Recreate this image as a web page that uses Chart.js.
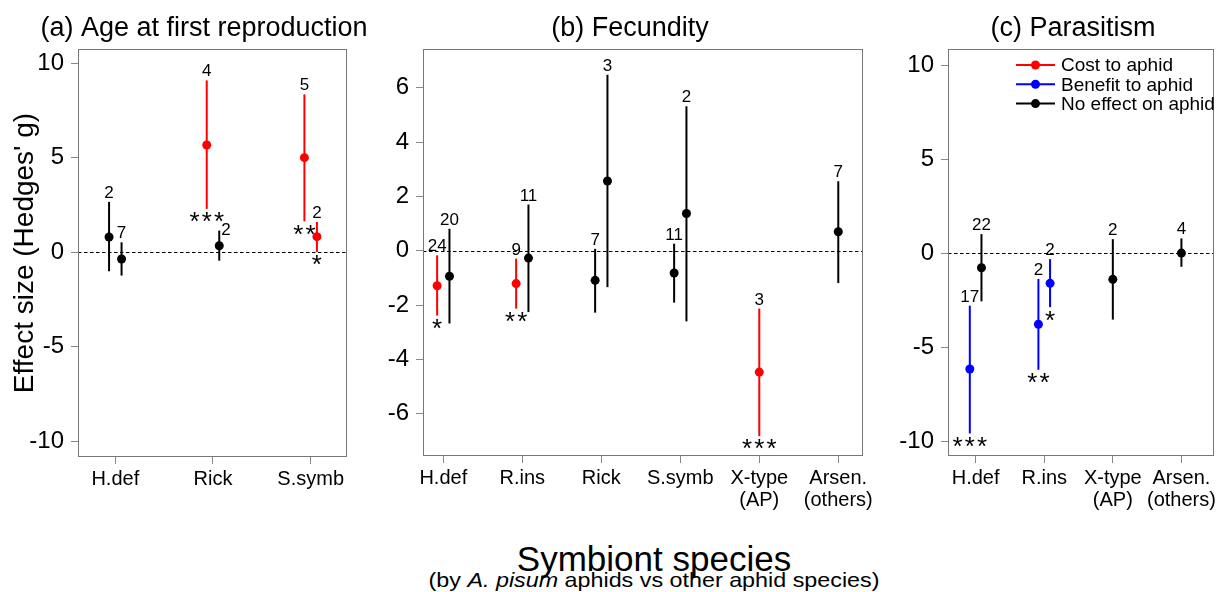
<!DOCTYPE html>
<html>
<head>
<meta charset="utf-8">
<title>Symbiont effects on aphids</title>
<script src="https://cdn.jsdelivr.net/npm/chart.js@4.4.1/dist/chart.umd.min.js"></script>
<style>
  html, body { margin: 0; padding: 0; background: #fff; }
  body { position: relative; width: 1221px; height: 592px; overflow: hidden; font-family: "Liberation Sans", Arial, sans-serif; color: #000; }
  canvas { position: absolute; top: 0; }
  .xtitle { position: absolute; white-space: nowrap; }
</style>
</head>
<body>
<canvas id="panelA" width="408" height="520" style="left:0px"></canvas>
<canvas id="panelB" width="520" height="520" style="left:370px"></canvas>
<canvas id="panelC" width="346" height="520" style="left:900px"></canvas>
<div class="xtitle" style="left:654px; top:541px; font-size:35px; line-height:35px; transform:translateX(-50%)">Symbiont species</div>
<div class="xtitle" style="left:654px; top:568px; font-size:21px; line-height:23px; transform:translateX(-50%) scaleX(1.11)">(by <i>A. pisum</i> aphids vs other aphid species)</div>
<script>
// tick labels per panel
const ticksA = ['H.def', 'Rick', 'S.symb'];
const ticksB = ['H.def', 'R.ins', 'Rick', 'S.symb', ['X-type', '(AP)'], ['Arsen.', '(others)']];
const ticksC = ['H.def', 'R.ins', ['X-type', '(AP)'], ['Arsen.', '(others)']];

// (a) age at first reproduction
const catA = [1, 1, 2, 2, 3, 3];
const hostA = ['pisum', 'other', 'pisum', 'other', 'pisum', 'other'];
const meanA = [0.81, -0.35, 5.68, 0.35, 5.01, 0.83];
const lowA = [-1.0, -1.23, 2.3, -0.44, 1.64, 0.02];
const highA = [2.67, 0.53, 9.1, 1.15, 8.36, 1.61];
const nA = [2, 7, 4, 2, 5, 2];
const sigA = ['', '', '***', '', '**', '*'];
const effA = ['none', 'none', 'cost', 'none', 'cost', 'cost'];

// (b) fecundity
const catB = [1, 1, 2, 2, 3, 3, 4, 4, 5, 6];
const hostB = ['pisum', 'other', 'pisum', 'other', 'pisum', 'other', 'pisum', 'other', 'pisum', 'other'];
const meanB = [-1.29, -0.94, -1.21, -0.27, -1.09, 2.57, -0.82, 1.37, -4.47, 0.70];
const lowB = [-2.39, -2.68, -2.13, -2.26, -2.28, -1.34, -1.91, -2.60, -6.83, -1.19];
const highB = [-0.17, 0.81, -0.29, 1.70, 0.07, 6.48, 0.26, 5.32, -2.13, 2.56];
const nB = [24, 20, 9, 11, 7, 3, 11, 2, 3, 7];
const sigB = ['*', '', '**', '', '', '', '', '', '***', ''];
const effB = ['cost', 'none', 'cost', 'none', 'none', 'none', 'none', 'none', 'cost', 'none'];

// (c) parasitism
const catC = [1, 1, 2, 2, 3, 4];
const hostC = ['pisum', 'other', 'pisum', 'other', 'pisum', 'other'];
const meanC = [-6.15, -0.76, -3.77, -1.59, -1.38, 0.02];
const lowC = [-9.58, -2.55, -6.19, -2.86, -3.52, -0.71];
const highC = [-2.78, 1.03, -1.36, -0.30, 0.76, 0.80];
const nC = [17, 22, 2, 2, 2, 4];
const sigC = ['***', '', '**', '*', '', ''];
const effC = ['benefit', 'none', 'benefit', 'benefit', 'none', 'none'];

const legendKeys = ['cost', 'benefit', 'none'];
const legendLabels = ['Cost to aphid', 'Benefit to aphid', 'No effect on aphid'];
const effectColors = { cost: '#ff0000', benefit: '#0000ff', none: '#000000' };

const FONT = "'Liberation Sans', Arial, sans-serif";
Chart.defaults.font.family = FONT;
Chart.defaults.color = '#000';

// two estimates sharing a symbiont are drawn side by side
function dodgeX(cat, host, dodge) {
  return cat.map((c, i) => {
    if (cat.filter(d => d === c).length < 2) return c;
    return host[i] === 'pisum' ? c - dodge : c + dodge;
  });
}

const effectLegend = {
  id: 'effectLegend',
  afterDraw(chart) {
    const { ctx, chartArea: a } = chart;
    ctx.save();
    ctx.font = '19px ' + FONT;
    ctx.textBaseline = 'middle';
    legendKeys.forEach((k, i) => {
      const yy = a.top + 16 + i * 19.3;
      const x0 = a.left + 68;
      ctx.strokeStyle = effectColors[k];
      ctx.fillStyle = effectColors[k];
      ctx.lineWidth = 2;
      ctx.beginPath(); ctx.moveTo(x0, yy); ctx.lineTo(x0 + 39, yy); ctx.stroke();
      ctx.beginPath(); ctx.arc(x0 + 19.5, yy, 4.5, 0, Math.PI * 2); ctx.fill();
      ctx.fillStyle = '#000';
      ctx.fillText(legendLabels[i], x0 + 45, yy + 1);
    });
    ctx.restore();
  }
};

function drawPanel(id, p) {
  const xs = dodgeX(p.cat, p.host, p.dodge);
  const datasets = legendKeys.map(k => ({
    label: k,
    data: p.mean.map((m, i) => ({ x: xs[i], y: m, k: p.eff[i] })).filter(d => d.k === k),
    backgroundColor: effectColors[k],
    borderColor: effectColors[k],
    borderWidth: 0,
    pointRadius: 4.5,
    pointHoverRadius: 4.5
  })).filter(ds => ds.data.length);

  const intervals = {
    id: 'intervals',
    beforeDatasetsDraw(chart) {
      const { ctx, chartArea: a, scales: { x, y } } = chart;
      ctx.save();
      const y0 = Math.round(y.getPixelForValue(0)) + 0.5;
      ctx.strokeStyle = '#000';
      ctx.lineWidth = 1;
      ctx.setLineDash([3.5, 2.5]);
      ctx.beginPath(); ctx.moveTo(a.left, y0); ctx.lineTo(a.right, y0); ctx.stroke();
      ctx.setLineDash([]);
      ctx.lineWidth = 2;
      xs.forEach((xv, i) => {
        const px = x.getPixelForValue(xv);
        ctx.strokeStyle = effectColors[p.eff[i]];
        ctx.beginPath();
        ctx.moveTo(px, y.getPixelForValue(p.low[i]));
        ctx.lineTo(px, y.getPixelForValue(p.high[i]));
        ctx.stroke();
      });
      ctx.restore();
    },
    afterDatasetsDraw(chart) {
      const { ctx, chartArea: a, scales: { x, y } } = chart;
      ctx.save();
      ctx.fillStyle = '#000';
      ctx.textBaseline = 'alphabetic';

      // significance stars below each interval
      const starBoxes = [];
      ctx.font = '26px ' + FONT;
      ctx.textAlign = 'center';
      xs.forEach((xv, i) => {
        const stars = p.sig[i].length;
        if (!stars) return;
        const px = x.getPixelForValue(xv);
        const cy = y.getPixelForValue(p.low[i]) + 6.5;
        for (let s = 0; s < stars; s++) ctx.fillText('*', px + (s - (stars - 1) / 2) * 12.2, cy + 0.57 * 26);
        starBoxes.push({ i, x1: px - stars * 6.1, x2: px + stars * 6.1, y1: cy - 5, y2: cy + 5 });
      });

      // number of studies above each interval, moved aside if it would sit on stars
      ctx.font = '17px ' + FONT;
      xs.forEach((xv, i) => {
        const px = x.getPixelForValue(xv);
        const top = y.getPixelForValue(p.high[i]);
        const txt = String(p.n[i]);
        const w = ctx.measureText(txt).width;
        const hit = starBoxes.some(b => b.i !== i && px + w / 2 > b.x1 && px - w / 2 < b.x2 && top - 4 > b.y1 && top - 16 < b.y2);
        if (hit) {
          ctx.textAlign = 'left';
          ctx.fillText(txt, px + 2, top + 4);
        } else {
          ctx.textAlign = 'center';
          ctx.fillText(txt, px, top - 4);
        }
      });

      ctx.strokeStyle = '#777';
      ctx.lineWidth = 1;
      ctx.strokeRect(a.left + 0.5, a.top + 0.5, a.width - 1, a.height - 1);

      // panel title
      ctx.font = '27px ' + FONT;
      ctx.textAlign = 'center';
      ctx.fillText(p.title, p.titleX, 36);
      ctx.restore();
    }
  };

  const grid = { drawOnChartArea: false, drawTicks: true, tickLength: 7, color: '#888', lineWidth: 1 };

  new Chart(document.getElementById(id), {
    type: 'scatter',
    data: { datasets },
    options: {
      responsive: false,
      animation: false,
      events: [],
      layout: { padding: { left: 0, top: 49, bottom: 0, right: p.padRight } },
      plugins: {
        legend: { display: false },
        tooltip: { enabled: false },
        title: { display: false }
      },
      scales: {
        x: {
          type: 'linear', min: p.xMin, max: p.xMax,
          afterBuildTicks: s => { s.ticks = p.ticks.map((t, i) => ({ value: i + 1 })); },
          afterFit: s => { s.height = p.xHeight; },
          ticks: {
            autoSkip: false, maxRotation: 0, minRotation: 0, padding: 4, color: '#000',
            font: { size: 20, lineHeight: 1.1 },
            callback: (v, i) => p.ticks[i]
          },
          grid: grid,
          border: { display: false }
        },
        y: {
          min: p.yMin, max: p.yMax,
          afterFit: s => { s.width = p.yWidth; },
          ticks: { stepSize: p.yStep, includeBounds: false, padding: 7, color: '#000', font: { size: 24 } },
          grid: grid,
          border: { display: false },
          title: p.yTitle
            ? { display: true, text: p.yTitle, color: '#000', font: { size: 28 }, padding: { top: 8, bottom: 0 } }
            : { display: false }
        }
      }
    },
    plugins: p.legend ? [intervals, effectLegend] : [intervals]
  });
}

drawPanel('panelA', {
  title: '(a) Age at first reproduction', titleX: 204, yTitle: "Effect size (Hedges' g)",
  ticks: ticksA, cat: catA, host: hostA, mean: meanA, low: lowA, high: highA, n: nA, sig: sigA, eff: effA,
  xMin: 0.618, xMax: 3.372, dodge: 0.064, yMin: -10.83, yMax: 10.76, yStep: 5,
  yWidth: 78, xHeight: 63, padRight: 61
});
drawPanel('panelB', {
  title: '(b) Fecundity', titleX: 260,
  ticks: ticksB, cat: catB, host: hostB, mean: meanB, low: lowB, high: highB, n: nB, sig: sigB, eff: effB,
  xMin: 0.743, xMax: 6.313, dodge: 0.078, yMin: -7.56, yMax: 7.43, yStep: 2,
  yWidth: 53, xHeight: 64, padRight: 27
});
drawPanel('panelC', {
  title: '(c) Parasitism', titleX: 173, legend: true,
  ticks: ticksC, cat: catC, host: hostC, mean: meanC, low: lowC, high: highC, n: nC, sig: sigC, eff: effC,
  xMin: 0.597, xMax: 4.475, dodge: 0.085, yMin: -10.78, yMax: 10.88, yStep: 5,
  yWidth: 48, xHeight: 64, padRight: 32
});
</script>
</body>
</html>
